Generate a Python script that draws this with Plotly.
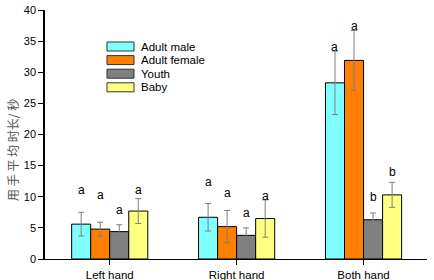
import plotly.graph_objects as go

categories = ["Left hand", "Right hand", "Both hand"]
series_names = ["Adult male", "Adult female", "Youth", "Baby"]
adult_male = [5.6, 6.7, 28.3]
adult_female = [4.8, 5.2, 31.9]
youth = [4.4, 3.8, 6.3]
baby = [7.7, 6.5, 10.3]
adult_male_err = [1.9, 2.2, 5.1]
adult_female_err = [1.1, 2.6, 4.8]
youth_err = [1.1, 1.2, 1.1]
baby_err = [2.0, 3.0, 2.0]
adult_male_sig = ["a", "a", "a"]
adult_female_sig = ["a", "a", "a"]
youth_sig = ["a", "a", "b"]
baby_sig = ["a", "a", "b"]
adult_male_sig_y = [11.1, 12.4, 34.0]
adult_female_sig_y = [10.3, 10.6, 37.4]
youth_sig_y = [7.9, 7.4, 9.9]
baby_sig_y = [11.1, 10.1, 13.9]
y_ticks = [0, 5, 10, 15, 20, 25, 30, 35, 40]
y_title = "用 手 平 均 时长/ 秒"

values = [adult_male, adult_female, youth, baby]
errors = [adult_male_err, adult_female_err, youth_err, baby_err]
sigs = [adult_male_sig, adult_female_sig, youth_sig, baby_sig]
sig_ys = [adult_male_sig_y, adult_female_sig_y, youth_sig_y, baby_sig_y]
colors = ["#80FFFF", "#FF8000", "#808080", "#FFFF80"]

FONT = "Liberation Sans, Arial, sans-serif"
W, H = 434, 280
PLOT_L, PLOT_R, PLOT_T, PLOT_B = 45, 427, 10, 259
ML, MT, MR, MB = PLOT_L, PLOT_T, W - PLOT_R, H - PLOT_B
PW, PH = PLOT_R - PLOT_L, PLOT_B - PLOT_T

fig = go.Figure()
for name, v, e, c in zip(series_names, values, errors, colors):
    fig.add_trace(go.Bar(
        name=name, x=categories, y=v,
        marker=dict(color=c, line=dict(color="black", width=1)),
        error_y=dict(type="data", array=e, visible=True, color="#7f7f7f",
                     thickness=1, width=3),
        showlegend=False,
    ))

bargap = 0.4
n = len(series_names)
bw = (1 - bargap) / n
annotations = []
for k in range(n):
    off = -(1 - bargap) / 2 + bw * (k + 0.5)
    for i in range(len(categories)):
        annotations.append(dict(
            x=i + off, y=sig_ys[k][i], xref="x", yref="y",
            text=sigs[k][i], showarrow=False, yanchor="middle",
            font=dict(family=FONT, size=12, color="black"),
        ))


def px_x(p):
    return (p - PLOT_L) / PW


def px_y(p):
    return (PLOT_B - p) / PH


shapes = []
row0, step = 46.5, 13.6
for k, (name, c) in enumerate(zip(series_names, colors)):
    cy = row0 + step * k
    shapes.append(dict(type="rect", xref="paper", yref="paper",
                       x0=px_x(107), x1=px_x(134),
                       y0=px_y(cy + 4.5), y1=px_y(cy - 4.5),
                       fillcolor=c, line=dict(color="#333333", width=1)))
    annotations.append(dict(x=px_x(139), y=px_y(cy), xref="paper", yref="paper",
                            text=name, showarrow=False, xanchor="left",
                            yanchor="middle",
                            font=dict(family=FONT, size=11.5, color="black")))

annotations.append(dict(
    x=px_x(12), y=px_y(150), xref="paper", yref="paper", text=y_title,
    showarrow=False, textangle=-90, xanchor="center", yanchor="middle",
    font=dict(family="Noto Sans CJK SC", size=12, color="#555555"),
))

fig.update_layout(
    width=W, height=H,
    margin=dict(l=ML, r=MR, t=MT, b=MB, pad=0, autoexpand=False),
    paper_bgcolor="white", plot_bgcolor="white",
    barmode="group", bargap=bargap, bargroupgap=0,
    font=dict(family=FONT, size=11.5, color="black"),
    annotations=annotations, shapes=shapes,
    xaxis=dict(range=[-0.51, 2.5], showline=True, linecolor="black",
               linewidth=1, ticks="outside", ticklen=5, tickcolor="black",
               showgrid=False, zeroline=False, automargin=False,
               tickfont=dict(family=FONT, size=11.5)),
    yaxis=dict(range=[0, 40], tickvals=y_ticks, showline=True,
               linecolor="black", linewidth=1.5, ticks="outside", ticklen=5,
               tickcolor="black", showgrid=False, zeroline=False,
               automargin=False, tickfont=dict(family=FONT, size=11)),
)

fig.write_html(
    "out.html",
    config={"displayModeBar": False},
    post_script="document.body.style.margin='0px';document.body.style.overflow='hidden';",
)
